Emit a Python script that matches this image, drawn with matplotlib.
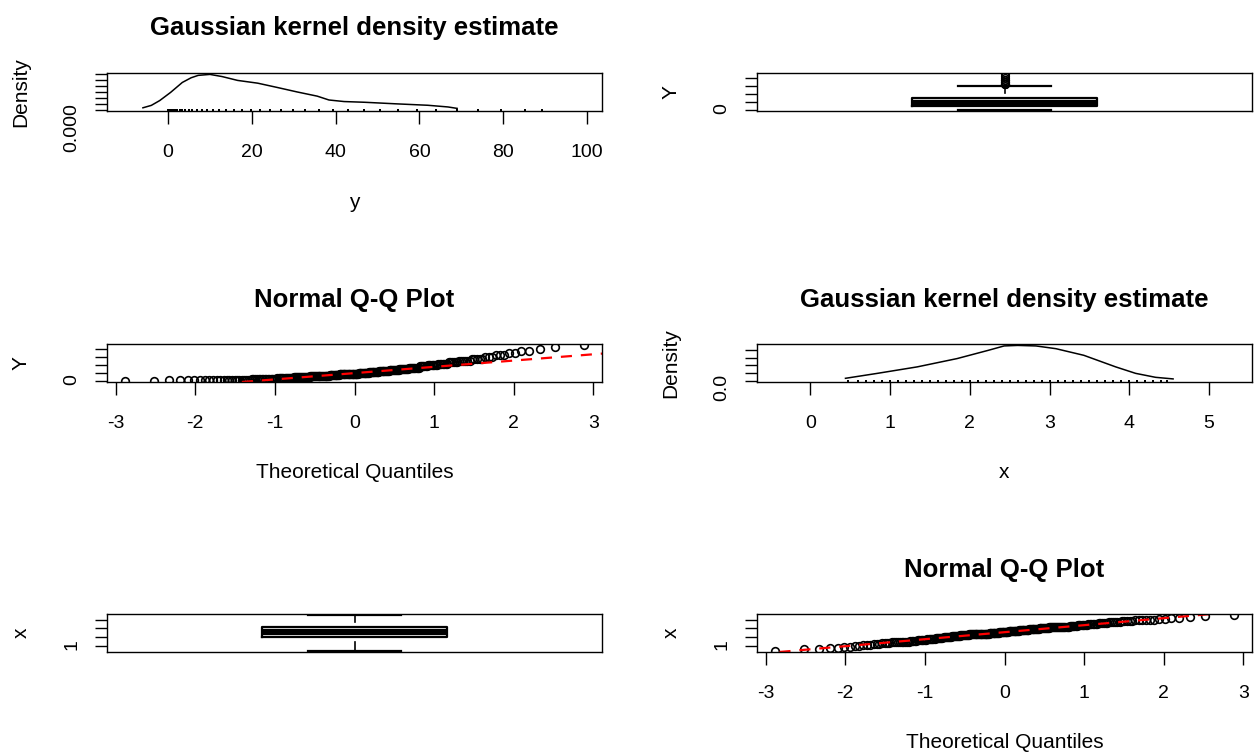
import statistics

import numpy as np
import matplotlib

matplotlib.use("Agg")
import matplotlib.pyplot as plt

plt.rcParams["font.family"] = ["Liberation Sans", "DejaVu Sans"]
plt.rcParams["axes.unicode_minus"] = False

x_values = [0.47, 0.6, 0.7, 0.8, 0.9, 1.0, 1.1, 1.2, 1.3, 1.4,
            1.5, 1.6, 1.7, 1.8, 1.9, 2.0, 2.1, 2.2, 2.3, 2.4,
            2.5, 2.6, 2.7, 2.8, 2.9, 3.0, 3.1, 3.2, 3.3, 3.4,
            3.5, 3.6, 3.7, 3.8, 3.9, 4.0, 4.1, 4.2, 4.3, 4.4, 4.47]
x_counts = [1, 1, 1, 2, 2, 2, 3, 3, 4, 5,
            5, 5, 7, 7, 7, 8, 9, 10, 12, 12,
            12, 12, 13, 12, 12, 11, 10, 10, 7, 8,
            7, 6, 6, 5, 3, 3, 2, 2, 1, 1, 1]

# --- sample Y (n = 250) ---
y_values = [0.1, 0.22, 0.34, 0.51, 0.73, 1.0, 1.33, 1.73, 2.2, 2.74,
            3.38, 4.1, 4.91, 5.83, 6.86, 8.0, 9.26, 10.65, 12.17, 13.82,
            15.63, 17.58, 19.68, 21.95, 24.39, 27.0, 29.79, 32.77, 35.94, 39.3,
            42.88, 46.66, 50.65, 54.87, 59.32, 64.0, 68.92, 74.09, 79.51, 85.18, 89.3]
y_counts = [1, 1, 1, 2, 2, 2, 3, 3, 4, 5,
            5, 5, 7, 7, 7, 8, 9, 10, 12, 12,
            12, 12, 13, 12, 12, 11, 10, 10, 7, 8,
            7, 6, 6, 5, 3, 3, 2, 2, 1, 1, 1]

# --- kernel density curves, read along the visible part of the lines ---
ydens_range = [-10.2, 99.2]
ydens_at = [-6, -4, -2, 0.6, 3.4, 5.5, 7.2, 10, 12.9, 16.6, 21.4, 26.1,
            30.8, 35.6, 38.4, 42, 46.9, 54.4, 62, 66.8, 69]
ydens = [0.0015, 0.0035, 0.0075, 0.0143, 0.0226, 0.0265, 0.0285, 0.0293,
         0.0275, 0.0243, 0.0220, 0.0184, 0.0147, 0.0112, 0.0080, 0.0067, 0.0061,
         0.0048, 0.0036, 0.0022, 0.0010]
xdens_range = [-0.44, 5.31]
xdens_at = [0.44, 0.84, 1.34, 1.84, 2.23, 2.43, 2.6, 2.83, 3.08,
            3.43, 3.83, 4.08, 4.33, 4.55]
xdens = [0.030, 0.095, 0.180, 0.289, 0.397, 0.455, 0.462, 0.455,
         0.419, 0.332, 0.180, 0.095, 0.043, 0.022]

# --- ticks ---
ydens_xticks = [0, 20, 40, 60, 80, 100]
xdens_xticks = [0, 1, 2, 3, 4, 5]
qq_ticks = [-3, -2, -1, 0, 1, 2, 3]
ydens_yticks = [0.0, 0.005, 0.010, 0.015, 0.020, 0.025, 0.030]
xdens_yticks = [0.0, 0.1, 0.2, 0.3, 0.4]
Y_yticks = [0, 20, 40, 60, 80]
x_yticks = [1, 2, 3, 4]

x = np.repeat(x_values, x_counts)
y = np.repeat(y_values, y_counts)

W, H = 1258, 753
COLS = [107, 757]
ROWS = [73, 344, 614]
PW, PH = 495, 38

fig = plt.figure(figsize=(W / 100, H / 100), dpi=100)


def txt(px, py, s, **kw):
    fig.text(px / W, 1 - py / H, s, **kw)


def panel(col, row, title=None, xlabel=None, ylabel=None):
    left, top = COLS[col], ROWS[row]
    ax = fig.add_axes([left / W, 1 - (top + PH) / H, PW / W, PH / H])
    for sp in ax.spines.values():
        sp.set_linewidth(1.0)
    ax.tick_params(axis="both", direction="out", length=9, width=1.0,
                   labelsize=14, colors="black")
    ax.tick_params(axis="x", pad=14.5)
    ax.tick_params(axis="y", pad=10, labelrotation=90)
    ax.margins(x=0.04, y=0.04)
    cx = left + PW / 2
    if title:
        txt(cx, top - 37.5, title, ha="center", va="baseline",
            fontsize=18.5, fontweight="bold")
    if xlabel:
        txt(cx, top + PH + 96.5, xlabel, ha="center", va="baseline", fontsize=15)
    if ylabel:
        txt(left - 86, top + PH / 2, ylabel, ha="center", va="center",
            rotation=90, fontsize=15)
    return ax


def first_only(ticks, fmt):
    return [fmt.format(ticks[0])] + [""] * (len(ticks) - 1)


def density_panel(col, row, rng, at, dens, sample, xticks, yticks, yfmt, xlabel):
    ax = panel(col, row, "Gaussian kernel density estimate", xlabel, "Density")
    ax.plot(at, dens, color="black", lw=1.1)
    ax.vlines(sample, 0, 0.06, transform=ax.get_xaxis_transform(),
              color="black", lw=1.4)
    pad = 0.04 * (rng[1] - rng[0])
    ax.set_xlim(rng[0] - pad, rng[1] + pad)
    top = max(dens)
    ax.set_ylim(-0.04 * top, 1.04 * top)
    ax.set_xticks(xticks)
    ax.set_yticks(yticks, labels=first_only(yticks, yfmt))


def box_panel(col, row, sample, yticks, ylabel):
    ax = panel(col, row, ylabel=ylabel)
    ax.boxplot(sample, positions=[1], widths=0.374, capwidths=0.187,
               boxprops=dict(color="black", linewidth=1.6),
               medianprops=dict(color="black", linewidth=4.5),
               whiskerprops=dict(color="black", linewidth=1.2, linestyle=(8, (8, 2.5))),
               capprops=dict(color="black", linewidth=1.6),
               flierprops=dict(marker="o", markerfacecolor="none",
                               markeredgecolor="black", markersize=5.5,
                               markeredgewidth=1.1))
    ax.set_xlim(0.5, 1.5)
    ax.set_xticks([])
    ax.set_yticks(yticks, labels=first_only(yticks, "{:g}"))


def qq_panel(col, row, sample, yticks, ylabel):
    ax = panel(col, row, "Normal Q-Q Plot", "Theoretical Quantiles", ylabel)
    s = np.sort(sample)
    n = len(s)
    nd = statistics.NormalDist()
    theo = [nd.inv_cdf((i - 0.5) / n) for i in range(1, n + 1)]
    ax.plot(theo, s, "o", mfc="none", mec="black", ms=5.5, mew=1.2)
    q1, q3 = np.quantile(s, [0.25, 0.75])
    ax.axline((nd.inv_cdf(0.25), q1), (nd.inv_cdf(0.75), q3),
              color="red", lw=1.6, ls=(0, (5, 4)))
    ax.set_xticks(qq_ticks)
    ax.set_yticks(yticks, labels=first_only(yticks, "{:g}"))


density_panel(0, 0, ydens_range, ydens_at, ydens, y, ydens_xticks,
              ydens_yticks, "{:.3f}", "y")
box_panel(1, 0, y, Y_yticks, "Y")
qq_panel(0, 1, y, Y_yticks, "Y")
density_panel(1, 1, xdens_range, xdens_at, xdens, x, xdens_xticks,
              xdens_yticks, "{:.1f}", "x")
box_panel(0, 2, x, x_yticks, "x")
qq_panel(1, 2, x, x_yticks, "x")

fig.savefig("out.png", dpi=100)
